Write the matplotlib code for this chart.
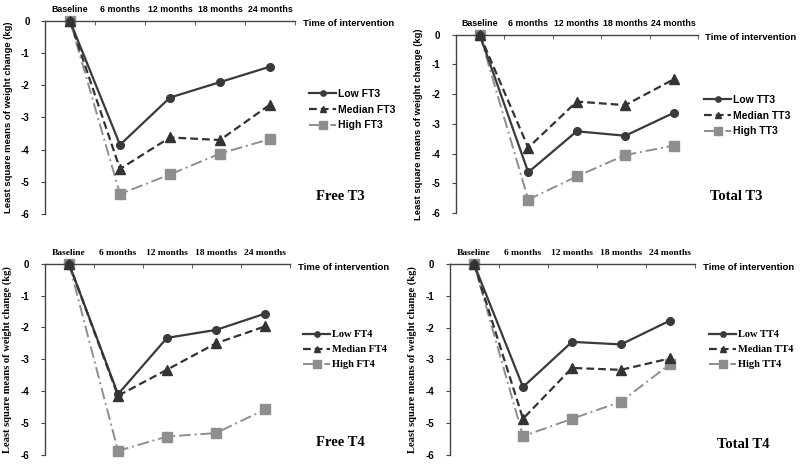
import matplotlib
matplotlib.use("Agg")
import matplotlib.pyplot as plt
import numpy as np

categories = ["Baseline", "6 months", "12 months", "18 months", "24 months"]
yticks = [0, -1, -2, -3, -4, -5, -6]

low_ft3 = [0, -3.85, -2.38, -1.90, -1.42]
med_ft3 = [0, -4.60, -3.62, -3.70, -2.60]
high_ft3 = [0, -5.38, -4.77, -4.12, -3.67]

low_tt3 = [0, -4.63, -3.25, -3.40, -2.63]
med_tt3 = [0, -3.80, -2.25, -2.37, -1.50]
high_tt3 = [0, -5.55, -4.77, -4.05, -3.73]

low_ft4 = [0, -4.10, -2.33, -2.08, -1.57]
med_ft4 = [0, -4.15, -3.33, -2.50, -1.97]
high_ft4 = [0, -5.88, -5.43, -5.32, -4.58]

low_tt4 = [0, -3.87, -2.45, -2.53, -1.78]
med_tt4 = [0, -4.87, -3.27, -3.33, -2.97]
high_tt4 = [0, -5.42, -4.87, -4.33, -3.15]

SANS = "Liberation Sans"
SERIF = "Liberation Serif"

W, H = 800, 466
fig = plt.figure(figsize=(8, 4.66), dpi=100)

panels = [
    dict(px=(45, 295, 21, 214), data=(low_ft3, med_ft3, high_ft3),
         labels=("Low FT3", "Median FT3", "High FT3"), title="Free T3", font=SANS,
         leg=(309, 89), tpos=(316, 197), time=(303, 24), fs=6.4, yfs=6.8),
    dict(px=(455.5, 698, 34.7, 213), data=(low_tt3, med_tt3, high_tt3),
         labels=("Low TT3", "Median TT3", "High TT3"), title="Total T3", font=SANS,
         leg=(704, 95), tpos=(710, 197), time=(705, 37), fs=6.4, yfs=6.8),
    dict(px=(44.5, 289.5, 263.7, 454.7), data=(low_ft4, med_ft4, high_ft4),
         labels=("Low FT4", "Median FT4", "High FT4"), title="Free T4", font=SERIF,
         leg=(303, 330), tpos=(316, 443), time=(298, 268), fs=6.8, yfs=7.6),
    dict(px=(449.5, 694.5, 264, 454.7), data=(low_tt4, med_tt4, high_tt4),
         labels=("Low TT4", "Median TT4", "High TT4"), title="Total T4", font=SERIF,
         leg=(709, 330), tpos=(717, 444), time=(703, 268), fs=6.8, yfs=7.6),
]

x = np.arange(len(categories))

for p in panels:
    l, r, t, b = p["px"]
    ax = fig.add_axes([l / W, 1 - b / H, (r - l) / W, (b - t) / H])
    low, med, high = p["data"]
    f = p["font"]
    h1, = ax.plot(x, low, color="#3a3a3a", lw=1.6, ls="-", marker="o", ms=5.5,
                  label=p["labels"][0], zorder=3, clip_on=False)
    h2, = ax.plot(x, med, color="#333333", lw=1.6, ls=(0, (3.5, 1.8)), marker="^", ms=7,
                  label=p["labels"][1], zorder=3, clip_on=False)
    h3, = ax.plot(x, high, color="#8e8e8e", lw=1.4, ls=(0, (6, 2, 1, 2)), marker="s", ms=7.5,
                  label=p["labels"][2], zorder=2, clip_on=False)
    ax.set_xlim(-0.5, 4.5)
    ax.set_ylim(-6, 0)
    for s in ("right", "bottom"):
        ax.spines[s].set_visible(False)
    ax.spines["top"].set_color("#444444")
    ax.spines["left"].set_color("#444444")
    ax.spines["top"].set_linewidth(1.0)
    ax.spines["left"].set_linewidth(1.0)
    ax.xaxis.tick_top()
    ax.set_xticks(x)
    ax.set_xticklabels(categories, fontfamily=f, fontweight="bold", fontsize=p["fs"])
    ax.set_xticks(x + 0.5, minor=True)
    ax.tick_params(axis="x", which="major", length=0, pad=5)
    ax.tick_params(axis="x", which="minor", length=3, direction="in", color="#444444")
    ax.set_yticks(yticks)
    ax.set_yticklabels([str(v) for v in yticks], fontfamily=SANS, fontweight="bold", fontsize=7)
    ax.tick_params(axis="y", length=3, direction="out", color="#444444", pad=8)
    ax.set_ylabel("Least square means of weight change (kg)", fontfamily=f,
                  fontweight="bold", fontsize=p["yfs"], labelpad=6)
    ax.legend(handles=[h1, h2, h3], loc="upper left",
              bbox_to_anchor=(p["leg"][0] / W, 1 - p["leg"][1] / H),
              bbox_transform=fig.transFigure, frameon=False,
              prop=dict(family=f, weight="bold", size=7.5),
              handlelength=2.6, handletextpad=0.2, labelspacing=0.55,
              borderpad=0, borderaxespad=0, markerscale=0.7)
    fig.text(p["tpos"][0] / W, 1 - p["tpos"][1] / H, p["title"], fontfamily=SERIF,
             fontweight="bold", fontsize=10.5, va="center", ha="left")
    fig.text(p["time"][0] / W, 1 - p["time"][1] / H, "Time of intervention", fontfamily=SANS,
             fontweight="bold", fontsize=6.8, va="center", ha="left")

fig.savefig("out.png", dpi=100)
